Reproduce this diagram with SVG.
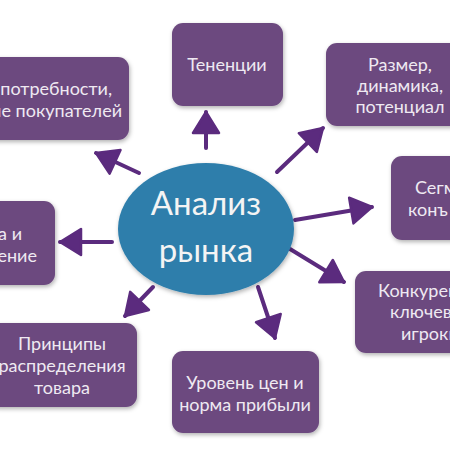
<svg xmlns="http://www.w3.org/2000/svg" width="450" height="450" viewBox="0 0 450 450">
<defs>
<filter id="sh" x="-10%" y="-10%" width="130%" height="130%">
<feDropShadow dx="1" dy="2" stdDeviation="2" flood-color="#000" flood-opacity="0.3"/>
</filter>
<marker id="ah" markerUnits="userSpaceOnUse" markerWidth="28" markerHeight="32" viewBox="-3 -16 28 32" refX="21" refY="0" orient="auto">
<path d="M0,-13 L21,0 L0,13 Z" fill="#5b2b7e" stroke="#5b2b7e" stroke-width="2.5" stroke-linejoin="round"/>
</marker>
<style>
.box{fill:#6c4a7f;filter:url(#sh)}
.t{font-family:Lato,"Open Sans","DejaVu Sans",sans-serif;font-size:18px;fill:#efe9f2;text-anchor:middle}
.s{text-anchor:start}
.e{text-anchor:end}
.arr{stroke:#5b2b7e;stroke-width:4;stroke-linecap:round;fill:none;marker-end:url(#ah)}
.ct{font-family:Lato,"Open Sans","DejaVu Sans",sans-serif;font-size:33px;fill:#f4f4f4;text-anchor:middle}
</style>
</defs>
<rect width="450" height="450" fill="#ffffff"/>
<g id="connectors">
<line class="arr" x1="139" y1="173" x2="96" y2="153"/>
<line class="arr" x1="206" y1="148" x2="206" y2="112"/>
<line class="arr" x1="277" y1="172" x2="323" y2="128"/>
<line class="arr" x1="295" y1="220" x2="372" y2="207"/>
<line class="arr" x1="290" y1="249" x2="344" y2="282"/>
<line class="arr" x1="258" y1="287" x2="275" y2="338"/>
<line class="arr" x1="153" y1="287" x2="125" y2="316"/>
<line class="arr" x1="112" y1="242" x2="60" y2="242"/>
</g>
<g id="n-center">
<ellipse cx="206" cy="229" rx="88" ry="66" fill="#2e7eab" filter="url(#sh)"/>
<text class="ct" x="206" y="215">Анализ</text>
<text class="ct" x="206" y="262">рынка</text>
</g>
<g id="n-needs">
<rect class="box" x="-30" y="57" width="159" height="83" rx="11"/>
<text class="t e" x="112" y="95">потребности,</text>
<text class="t e" x="122" y="117">ие покупателей</text>
</g>
<g id="n-trends">
<rect class="box" x="172" y="23" width="111" height="83" rx="11"/>
<text class="t" x="227" y="71">Тененции</text>
</g>
<g id="n-size">
<rect class="box" x="326" y="43" width="150" height="83" rx="11"/>
<text class="t" x="400" y="71">Размер,</text>
<text class="t" x="400" y="92">динамика,</text>
<text class="t" x="400" y="113">потенциал</text>
</g>
<g id="n-segm">
<rect class="box" x="391" y="156" width="90" height="84" rx="11"/>
<text class="t s" x="415" y="194">Сегм</text>
<text class="t s" x="408" y="216">конъ</text>
</g>
<g id="n-left">
<rect class="box" x="-30" y="201" width="85" height="84" rx="11"/>
<text class="t e" x="22" y="240">а и</text>
<text class="t e" x="37" y="262">ение</text>
</g>
<g id="n-distr">
<rect class="box" x="-13" y="323" width="150" height="84" rx="11"/>
<text class="t" x="62" y="350">Принципы</text>
<text class="t" x="62" y="372">распределения</text>
<text class="t" x="62" y="394">товара</text>
</g>
<g id="n-price">
<rect class="box" x="172" y="351" width="147" height="82" rx="11"/>
<text class="t" x="245" y="389">Уровень цен и</text>
<text class="t" x="245" y="411">норма прибыли</text>
</g>
<g id="n-comp">
<rect class="box" x="355" y="271" width="130" height="82" rx="11"/>
<text class="t s" x="378" y="297">Конкурен</text>
<text class="t s" x="390" y="318">ключевы</text>
<text class="t s" x="401" y="340">игроки</text>
</g>
</svg>
